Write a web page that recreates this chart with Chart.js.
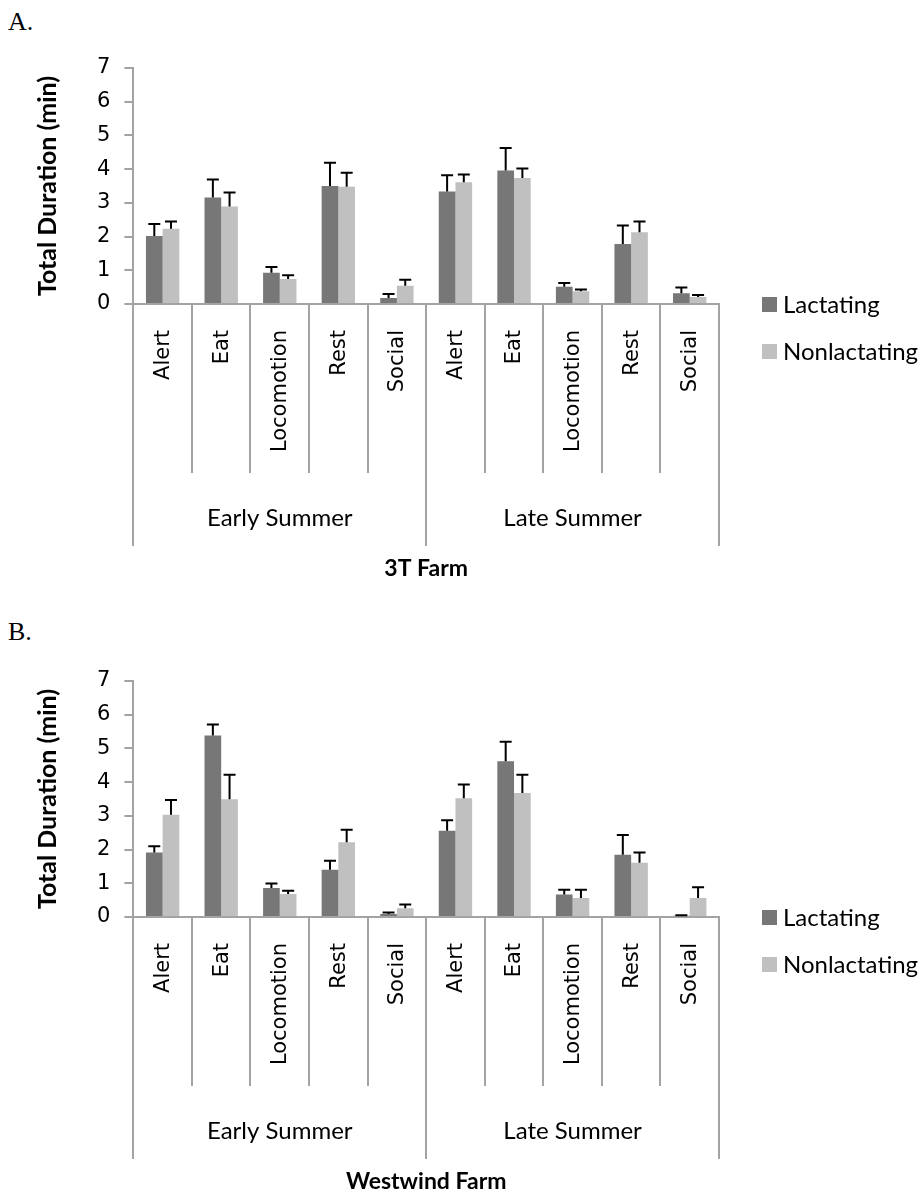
<!DOCTYPE html>
<html>
<head>
<meta charset="utf-8">
<script src="https://cdn.jsdelivr.net/npm/chart.js@4.4.0/dist/chart.umd.min.js"></script>
<style>
  body { margin: 0; background: #fff; }
  #page { position: relative; width: 924px; height: 1195px; overflow: hidden; }
  .panel { position: absolute; left: 8px; font-family: "Liberation Serif", serif; font-size: 26px; color: #000; }
  canvas { position: absolute; left: 0; }
</style>
</head>
<body>
<div id="page">
  <div class="panel" style="top:7px">A.</div>
  <canvas id="chartA" width="924" height="600" style="top:0px"></canvas>
  <div class="panel" style="top:617px">B.</div>
  <canvas id="chartB" width="924" height="582" style="top:613px"></canvas>
</div>
<script>
// categories
const behaviors = ['Alert', 'Eat', 'Locomotion', 'Rest', 'Social'];
const seasons = ['Early Summer', 'Late Summer'];
const seriesNames = ['Lactating', 'Nonlactating'];
const yTicks = [0, 1, 2, 3, 4, 5, 6, 7];

// 3T Farm (early summer x5, then late summer x5)
const lact3T = [2.02, 3.16, 0.93, 3.50, 0.18, 3.34, 3.96, 0.51, 1.78, 0.32];
const lact3TErr = [0.35, 0.53, 0.17, 0.69, 0.12, 0.48, 0.67, 0.11, 0.55, 0.17];
const non3T = [2.23, 2.89, 0.74, 3.48, 0.54, 3.61, 3.74, 0.38, 2.13, 0.21];
const non3TErr = [0.22, 0.42, 0.11, 0.41, 0.18, 0.23, 0.28, 0.05, 0.32, 0.06];

// Westwind Farm
const lactWW = [1.91, 5.38, 0.86, 1.40, 0.09, 2.56, 4.62, 0.67, 1.85, 0.04];
const lactWWErr = [0.19, 0.33, 0.13, 0.27, 0.04, 0.31, 0.58, 0.14, 0.58, 0.01];
const nonWW = [3.03, 3.49, 0.68, 2.22, 0.26, 3.52, 3.68, 0.56, 1.61, 0.56];
const nonWWErr = [0.44, 0.73, 0.10, 0.37, 0.11, 0.41, 0.54, 0.25, 0.30, 0.32];

const darkGrey = '#777777';
const lightGrey = '#c0c0c0';
const axisGrey = '#a3a3a3';
const labels = seasons.flatMap(s => behaviors.map(b => b));

// error bars (upper only, with cap)
const errorBars = {
    id: 'errorBars',
    afterDatasetsDraw(chart) {
        const ctx = chart.ctx;
        const y = chart.scales.y;
        ctx.save();
        ctx.strokeStyle = '#000';
        ctx.lineWidth = 2;
        chart.data.datasets.forEach((ds, di) => {
            const meta = chart.getDatasetMeta(di);
            meta.data.forEach((bar, i) => {
                const top = y.getPixelForValue(ds.data[i] + ds.errors[i]);
                ctx.beginPath();
                ctx.moveTo(bar.x, bar.y);
                ctx.lineTo(bar.x, top);
                ctx.moveTo(bar.x - 6, top);
                ctx.lineTo(bar.x + 6, top);
                ctx.stroke();
            });
        });
        ctx.restore();
    }
};

// two level category axis, farm title and legend
const groupAxis = {
    id: 'groupAxis',
    afterDraw(chart, args, opts) {
        const ctx = chart.ctx;
        const x = chart.scales.x;
        const area = chart.chartArea;
        const base = chart.scales.y.getPixelForValue(0);
        const n = chart.data.labels.length;
        const half = (x.getPixelForValue(1) - x.getPixelForValue(0)) / 2;

        ctx.save();
        ctx.strokeStyle = axisGrey;
        ctx.lineWidth = 2;
        for (let i = 0; i <= n; i++) {
            const bx = Math.round(i < n ? x.getPixelForValue(i) - half : x.getPixelForValue(n - 1) + half);
            const len = (i % behaviors.length === 0) ? 242 : 169;
            ctx.beginPath();
            ctx.moveTo(bx, base);
            ctx.lineTo(bx, base + len);
            ctx.stroke();
        }

        // behaviour labels, rotated
        ctx.fillStyle = '#000';
        ctx.font = '21px "DejaVu Sans"';
        ctx.textAlign = 'right';
        ctx.textBaseline = 'middle';
        chart.data.labels.forEach((lab, i) => {
            ctx.save();
            ctx.translate(x.getPixelForValue(i) + 1, base + 26);
            ctx.rotate(-Math.PI / 2);
            ctx.fillText(lab, 0, 0);
            ctx.restore();
        });

        // season labels
        ctx.font = '24px Lato';
        ctx.textAlign = 'center';
        seasons.forEach((s, g) => {
            const first = x.getPixelForValue(g * behaviors.length);
            const last = x.getPixelForValue((g + 1) * behaviors.length - 1);
            ctx.fillText(s, (first + last) / 2, base + 214);
        });

        // farm title
        ctx.font = 'bold 23px Lato';
        ctx.fillText(opts.farm, (area.left + area.right) / 2, base + 265);

        // legend
        ctx.font = '24px Lato';
        ctx.textAlign = 'left';
        chart.data.datasets.forEach((ds, di) => {
            const cy = base + di * 47;
            ctx.fillStyle = ds.backgroundColor;
            ctx.fillRect(area.right + 43, cy - 7, 15, 15);
            ctx.fillStyle = '#000';
            ctx.fillText(ds.label, area.right + 64, cy + 1);
        });
        ctx.restore();
    }
};

function makeChart(id, lact, lactErr, non, nonErr, farm, bottomPad) {
    const ctx = document.getElementById(id).getContext('2d');
    return new Chart(ctx, {
        type: 'bar',
        data: {
            labels: labels,
            datasets: [{
                label: seriesNames[0],
                data: lact,
                errors: lactErr,
                backgroundColor: darkGrey,
                categoryPercentage: 0.57,
                barPercentage: 1.0
            }, {
                label: seriesNames[1],
                data: non,
                errors: nonErr,
                backgroundColor: lightGrey,
                categoryPercentage: 0.57,
                barPercentage: 1.0
            }]
        },
        options: {
            responsive: false,
            animation: false,
            devicePixelRatio: 1,
            layout: { padding: { left: 33, right: 205, top: 68, bottom: bottomPad } },
            plugins: {
                legend: { display: false },
                tooltip: { enabled: false },
                groupAxis: { farm: farm }
            },
            scales: {
                x: {
                    grid: { display: false },
                    ticks: { display: false },
                    border: { color: axisGrey, width: 2 }
                },
                y: {
                    min: yTicks[0],
                    max: yTicks[yTicks.length - 1],
                    ticks: { stepSize: 1, color: '#000', padding: 14, font: { family: 'DejaVu Sans', size: 21 } },
                    grid: { drawOnChartArea: false, drawTicks: true, tickLength: 9, color: axisGrey, lineWidth: 2 },
                    border: { color: axisGrey, width: 2 },
                    title: {
                        display: true,
                        text: 'Total Duration (min)',
                        color: '#000',
                        padding: { top: 0, bottom: 20 },
                        font: { family: 'Lato', size: 25, weight: 'bold' }
                    }
                }
            }
        },
        plugins: [errorBars, groupAxis]
    });
}

makeChart('chartA', lact3T, lact3TErr, non3T, non3TErr, '3T Farm', 288);
makeChart('chartB', lactWW, lactWWErr, nonWW, nonWWErr, 'Westwind Farm', 270);
</script>
</body>
</html>
